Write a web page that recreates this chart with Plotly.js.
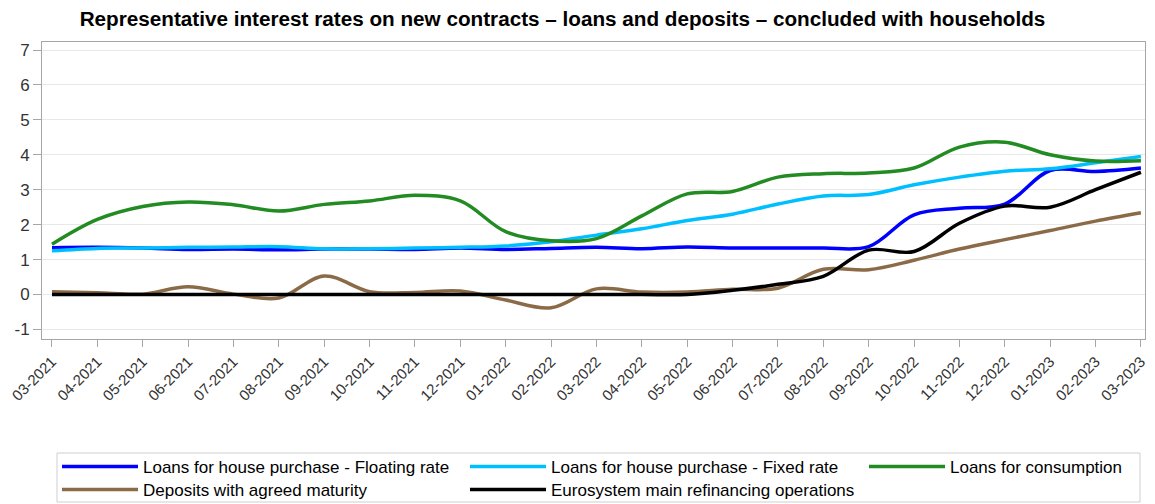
<!DOCTYPE html>
<html>
<head>
<meta charset="utf-8">
<script src="https://cdn.plot.ly/plotly-3.0.1.min.js"></script>
<style>html,body{margin:0;padding:0;background:#fff;}#chart{width:1155px;height:504px;}</style>
</head>
<body>
<div id="chart"></div>
<script>
const months = ['03-2021','04-2021','05-2021','06-2021','07-2021','08-2021','09-2021','10-2021','11-2021','12-2021',
  '01-2022','02-2022','03-2022','04-2022','05-2022','06-2022','07-2022','08-2022','09-2022','10-2022','11-2022','12-2022',
  '01-2023','02-2023','03-2023'];

const floatingRate = [1.34,1.35,1.33,1.29,1.30,1.28,1.30,1.30,1.29,1.33,1.29,1.32,1.35,1.31,1.36,1.33,1.33,1.33,1.37,2.28,2.47,2.59,3.55,3.52,3.62];
const fixedRate    = [1.25,1.32,1.33,1.35,1.36,1.37,1.31,1.31,1.33,1.35,1.39,1.51,1.70,1.88,2.12,2.30,2.59,2.82,2.86,3.14,3.36,3.53,3.60,3.77,3.95];
const consumption  = [1.44,2.15,2.52,2.65,2.57,2.39,2.58,2.68,2.84,2.68,1.80,1.54,1.60,2.25,2.88,2.95,3.36,3.46,3.48,3.62,4.22,4.36,4.00,3.82,3.83];
const deposits     = [0.08,0.05,0.01,0.22,0.01,-0.10,0.53,0.08,0.06,0.10,-0.16,-0.38,0.16,0.07,0.07,0.15,0.18,0.72,0.71,0.98,1.30,1.57,1.83,2.10,2.34];
const mro          = [0,0,0,0,0,0,0,0,0,0,0,0,0,0,0,0.12,0.29,0.52,1.27,1.23,2.04,2.53,2.50,3.00,3.50];

const seriesNames = ['Loans for house purchase - Floating rate','Loans for house purchase - Fixed rate','Loans for consumption','Deposits with agreed maturity','Eurosystem main refinancing operations'];
const seriesColors = ['#0000ff','#00bfff','#228b22','#8b6b47','#000000'];
const seriesData = [floatingRate, fixedRate, consumption, deposits, mro];
const legendIds = ['legend','legend2','legend3','legend4','legend5'];
const yTicks = [-1,0,1,2,3,4,5,6,7];
const yTickText = ['-1','0','1','2','3','4','5','6','7'];

const traces = seriesData.map((d,i)=>({
  x: months, y: d, type:'scatter', mode:'lines', name: seriesNames[i], legend: legendIds[i],
  line:{color:seriesColors[i], width:3.5, shape:'spline', smoothing:1},
  hoverinfo:'x+y'
}));
// draw order: black above brown
const data = [3,0,1,2,4].map(i=>traces[i]);

// plot area in pixels: x 42..1145, y 42..339
const PL = 42, PW = 1103, PB = 339, PH = 297, H = 504;
const legendFont = {family:'Liberation Sans, Arial, sans-serif', size:17, color:'#000'};
function leg(xPx, yPx){
  return {orientation:'v', xref:'paper', yref:'container', x:(xPx-PL)/PW, xanchor:'left',
    y:1 - yPx/H, yanchor:'middle', borderwidth:0, bgcolor:'rgba(0,0,0,0)', font:legendFont,
    itemwidth:76, itemclick:false, itemdoubleclick:false};
}

const layout = {
  width:1155, height:504,
  margin:{l:42, r:10, t:42, b:165},
  paper_bgcolor:'#ffffff', plot_bgcolor:'#ffffff',
  font:{family:'Liberation Sans, Arial, sans-serif', color:'#222'},
  title:{text:'<b>Representative interest rates on new contracts – loans and deposits – concluded with households</b>',
    font:{family:'Liberation Sans, Arial, sans-serif', size:20.7, color:'#000'},
    x:0.487, xref:'container', xanchor:'center', y:0.962, yref:'container', yanchor:'middle'},
  xaxis:{type:'category', range:[-0.22,24.09], tickangle:-45, ticks:'outside', ticklen:7, tickcolor:'#a6a6a6',
    tickfont:{size:15, color:'#333'}, showgrid:false, showline:true, linecolor:'#a6a6a6', linewidth:1, mirror:true,
    zeroline:false, fixedrange:true, automargin:false},
  yaxis:{range:[-1.275,7.23], tickvals:yTicks, ticktext:yTickText, ticks:'outside', ticklen:8, tickcolor:'#a6a6a6',
    tickfont:{size:17, color:'#333'}, showgrid:true, gridcolor:'#e8e8e8', gridwidth:1,
    showline:true, linecolor:'#a6a6a6', linewidth:1, mirror:true, zeroline:false, fixedrange:true, automargin:false},
  showlegend:true,
  legend: leg(57, 467),
  legend2: leg(465, 467),
  legend3: leg(864, 467),
  legend4: leg(57, 490),
  legend5: leg(465, 490),
  shapes:[{type:'rect', xref:'paper', yref:'paper', x0:(57-PL)/PW, x1:(1140-PL)/PW, y0:(PB-502)/PH, y1:(PB-453)/PH,
    line:{color:'#cfcfcf', width:1}, fillcolor:'rgba(0,0,0,0)', layer:'below'}]
};

Plotly.newPlot('chart', data, layout, {displayModeBar:false, staticPlot:true});
</script>
</body>
</html>
